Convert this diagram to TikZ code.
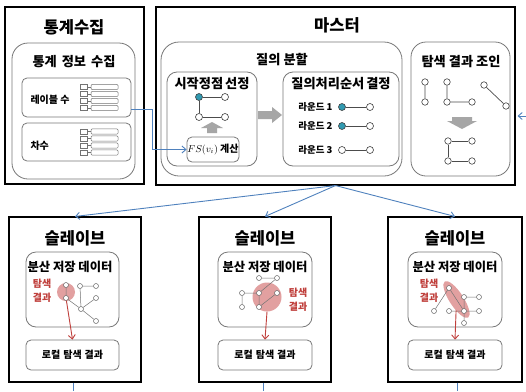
\documentclass[tikz,border=0pt]{standalone}
\usepackage{fontspec}
\setmainfont{Noto Sans CJK KR}
\usetikzlibrary{arrows.meta,shapes.geometric,calc}
\definecolor{bl}{RGB}{79,129,189}
\definecolor{tl}{RGB}{49,154,177}
\definecolor{rd}{RGB}{192,64,60}
\definecolor{rf}{RGB}{226,160,160}
\definecolor{ga}{RGB}{166,166,166}
\definecolor{bx}{RGB}{120,120,120}
\begin{document}
\begin{tikzpicture}[x=1pt,y=-1pt,
  outerbox/.style={draw=black, line width=1.1pt, fill=white},
  rbox/.style={draw=bx, line width=0.8pt, rounded corners=#1},
  big/.style={font=\bfseries\fontsize{16.5}{19}\selectfont},
  mid/.style={font=\bfseries\fontsize{13.2}{15}\selectfont},
  sml/.style={font=\bfseries\fontsize{10}{12}\selectfont},
  tiny/.style={font=\bfseries\fontsize{9.5}{11}\selectfont},
  gn/.style={circle, draw=black!75, fill=white, line width=0.6pt, inner sep=0pt, minimum size=7pt},
  tn/.style={gn, fill=tl},
  sn/.style={circle, draw=black!60, fill=white, line width=0.5pt, inner sep=0pt, minimum size=5pt},
  ge/.style={draw=black!70, line width=0.7pt},
  se/.style={draw=black!55, line width=0.5pt},
  bline/.style={draw=bl, line width=0.9pt},
  barrow/.style={bline, -{Straight Barb[length=4pt,width=7pt]}},
  rarrow/.style={draw=rd, line width=0.9pt, -{Straight Barb[length=4pt,width=7pt]}},
  rtext/.style={text=rd, font=\bfseries\fontsize{10}{14}\selectfont, align=center},
  garrow/.style={fill=ga, draw=none}
]
\useasboundingbox (0,0) rectangle (526,391);

% ---------- 통계수집 ----------
\node[outerbox, minimum width=139pt, minimum height=177pt] (stat) at (74.5,95.5) {};
\node[big] (statT) at (74,27) {통계수집};
\node[rbox=16pt, minimum width=123pt, minimum height=136pt] (info) at (73.5,111) {};
\node[mid] (infoT) at (74,62) {통계\hspace{5pt}정보\hspace{5pt}수집};
\node[rbox=5pt, minimum width=109pt, minimum height=39pt] (sub1) at (76.5,97.5) {};
\node[rbox=5pt, minimum width=109pt, minimum height=38pt] (sub2) at (76.5,142) {};
\node[sml, anchor=west] (sub1T) at (27,100) {레이블 수};
\node[sml, anchor=west] (sub2T) at (27,146) {차수};
\foreach \cy in {97.5,142}{
  \foreach \d in {-10.5,-3.5,3.5,10.5}{
    \draw[draw=black!55, line width=0.5pt] (80,\cy+\d-2.6) rectangle (87,\cy+\d+2.6);
    \draw[draw=black!55, line width=0.5pt] (87,\cy+\d) -- (91,\cy+\d);
    \draw[draw=black!55, line width=0.5pt, rounded corners=1pt] (91,\cy+\d-2.6) rectangle (118,\cy+\d+2.6);
  }
}

% ---------- 마스터 ----------
\node[outerbox, minimum width=359pt, minimum height=178pt] (master) at (335.5,96) {};
\node[big] (masterT) at (337,25) {마스터};
\node[rbox=18pt, minimum width=241pt, minimum height=134pt] (split) at (281.5,109) {};
\node[mid] (splitT) at (282,60) {질의\hspace{3pt}분할};
\node[rbox=10pt, minimum width=90pt, minimum height=94pt] (start) at (212,119) {};
\node[mid] (startT) at (212,84) {시작정점\hspace{2pt}선정};
\node[tn] (a1) at (199,97) {};
\node[gn] (a2) at (225,97) {};
\node[gn] (a3) at (199,117) {};
\node[gn] (a4) at (225,117) {};
\draw[ge] (a1) -- (a2) (a1) -- (a3) (a3) -- (a4);
\fill[garrow] (207,133) -- (217,133) -- (217,128) -- (223,128) -- (212,122) -- (201,128) -- (207,128) -- cycle;
\node[rbox=5pt, minimum width=52pt, minimum height=25pt] (fs) at (213,149.5) {};
\node[font=\fontsize{10}{12}\selectfont] (fsT) at (213,149.5) {$FS(v_i)$ \textbf{계산}};
\fill[garrow] (258,111) -- (272,111) -- (272,107) -- (282,115) -- (272,123) -- (272,119) -- (258,119) -- cycle;
\node[rbox=10pt, minimum width=116pt, minimum height=94pt] (order) at (341,119) {};
\node[mid] (orderT) at (341,84) {질의처리순서\hspace{2pt}결정};
\node[tiny, anchor=east] (r1T) at (336,107) {라운드 1};
\node[tiny, anchor=east] (r2T) at (336,126) {라운드 2};
\node[tiny, anchor=east] (r3T) at (336,150) {라운드 3};
\node[tn] (r1a) at (342,107) {};
\node[gn] (r1b) at (370,107) {};
\node[tn] (r2a) at (342,126) {};
\node[gn] (r2b) at (370,126) {};
\node[gn] (r3a) at (342,150) {};
\node[gn] (r3b) at (370,150) {};
\draw[ge] (r1a) -- (r1b) (r2a) -- (r2b) (r3a) -- (r3b);
\node[rbox=15pt, minimum width=99pt, minimum height=134pt] (join) at (460.5,109) {};
\node[mid] (joinT) at (461,62) {탐색\hspace{3pt}결과\hspace{3pt}조인};
\node[gn, minimum size=6.5pt] (j1) at (425,82) {};
\node[gn, minimum size=6.5pt] (j2) at (425,102) {};
\node[gn, minimum size=6.5pt] (j3) at (447,82) {};
\node[gn, minimum size=6.5pt] (j4) at (447,102) {};
\node[gn, minimum size=6.5pt] (j5) at (472,102) {};
\node[gn, minimum size=6.5pt] (j6) at (484,85) {};
\node[gn, minimum size=6.5pt] (j7) at (506,106) {};
\draw[ge] (j1) -- (j2) (j3) -- (j4) (j4) -- (j5) (j6) -- (j7);
\fill[garrow] (452,117) -- (472,117) -- (472,121) -- (477,121) -- (462,129) -- (447,121) -- (452,121) -- cycle;
\node[gn, minimum size=6.5pt] (k1) at (448,141) {};
\node[gn, minimum size=6.5pt] (k2) at (472,141) {};
\node[gn, minimum size=6.5pt] (k3) at (448,161) {};
\node[gn, minimum size=6.5pt] (k4) at (472,161) {};
\draw[ge] (k1) -- (k2) (k1) -- (k3) (k3) -- (k4);

% ---------- 슬레이브 ----------
\node[outerbox, minimum width=132pt, minimum height=165pt] (s1) at (75,299.5) {};
\node[outerbox, minimum width=132pt, minimum height=165pt] (s2) at (265,299.5) {};
\node[outerbox, minimum width=134pt, minimum height=165pt] (s3) at (455,299.5) {};
\node[big] (s1T) at (75,238) {슬레이브};
\node[big] (s2T) at (265,238) {슬레이브};
\node[big] (s3T) at (455,238) {슬레이브};
\node[rbox=10pt, minimum width=93pt, minimum height=75pt] (d1) at (72.5,289.5) {};
\node[rbox=10pt, minimum width=94pt, minimum height=75pt] (d2) at (265,289.5) {};
\node[rbox=10pt, minimum width=94pt, minimum height=75pt] (d3) at (455,289.5) {};
\node[font=\bfseries\fontsize{12.3}{14}\selectfont] (d1T) at (70,267) {분산 저장 데이터};
\node[font=\bfseries\fontsize{12.3}{14}\selectfont] (d2T) at (265,267) {분산 저장 데이터};
\node[font=\bfseries\fontsize{12.3}{14}\selectfont] (d3T) at (455,267) {분산 저장 데이터};
\node[rbox=5pt, minimum width=93pt, minimum height=30pt] (l1) at (72.5,355) {};
\node[rbox=5pt, minimum width=94pt, minimum height=30pt] (l2) at (265,355) {};
\node[rbox=5pt, minimum width=94pt, minimum height=30pt] (l3) at (455,355) {};
\node[sml] (l1T) at (72.5,355) {로컬\hspace{3pt}탐색\hspace{3pt}결과};
\node[sml] (l2T) at (265,355) {로컬\hspace{3pt}탐색\hspace{3pt}결과};
\node[sml] (l3T) at (455,355) {로컬\hspace{3pt}탐색\hspace{3pt}결과};

% slave 1 graph
\node[circle, fill=rf, inner sep=0pt, minimum size=18pt] (c1) at (66,292) {};
\node[sn] (p1) at (66,285) {};
\node[sn] (p2) at (66,298) {};
\node[sn] (p3) at (80,286) {};
\node[sn] (p4) at (96,286) {};
\node[sn] (p5) at (96,298) {};
\node[sn] (p6) at (81,309) {};
\node[sn] (p7) at (96,321) {};
\draw[se] (p1) -- (p2) (p2) -- (p6) (p3) -- (p4) (p3) -- (p6) (p6) -- (p5) (p6) -- (p7);
\node[rtext] (e1T) at (42,291) {탐색\\결과};
\draw[rarrow] (p2) -- (l1.north);

% slave 2 graph
\node[circle, fill=rf, inner sep=0pt, minimum size=29pt] (c2) at (267,297) {};
\node[sn] (q1) at (259,278) {};
\node[sn] (q2) at (277,278) {};
\node[sn] (q3) at (242,293) {};
\node[sn] (q4) at (259,293) {};
\node[sn] (q5) at (277,293) {};
\node[sn] (q6) at (242,307) {};
\node[sn] (q7) at (259,307) {};
\draw[se] (q1) -- (q2) (q2) -- (q4) (q3) -- (q4) (q3) -- (q6) (q4) -- (q7) (q7) -- (q5);
\node[rtext] (e2T) at (298,300) {탐색\\결과};
\draw[rarrow] (c2.south) -- (l2.north);

% slave 3 graph
\node[ellipse, fill=rf, inner sep=0pt, minimum width=43pt, minimum height=14pt, rotate=-57] (c3) at (456.5,299.5) {};
\node[sn] (t1) at (449,288) {};
\node[sn] (t2) at (434,311) {};
\node[sn] (t3) at (449,311) {};
\node[sn] (t4) at (464,311) {};
\node[sn] (t5) at (479,311) {};
\node[sn] (t6) at (464,297) {};
\node[sn] (t7) at (479,297) {};
\node[sn] (t8) at (464,323) {};
\draw[se] (t1) -- (t2) (t1) -- (t4) (t3) -- (t4) (t4) -- (t5) (t6) -- (t7) (t6) -- (t4) (t4) -- (t8);
\node[rtext] (e3T) at (429,291) {탐색\\결과};
\draw[rarrow, shorten <=11pt] (c3.center) -- (l3.north);

% ---------- blue connectors ----------
\draw[barrow] ($(sub1.east)+(0,11.5)$) -- ++(21,0) |- (fs.west);
\draw[barrow] (master.south) -- (s1.north);
\draw[barrow] (master.south) -- (s2.north);
\draw[barrow] (master.south) -- (s3.north);
\coordinate (rin) at (526,116);
\draw[barrow, shorten >=2pt] (rin) -- (rin -| master.east);
\coordinate (o1) at (73,391);
\coordinate (o2) at (263,391);
\coordinate (o3) at (457,391);
\draw[bline] (s1.south -| o1) -- (o1);
\draw[bline] (s2.south -| o2) -- (o2);
\draw[bline] (s3.south -| o3) -- (o3);
\end{tikzpicture}
\end{document}
